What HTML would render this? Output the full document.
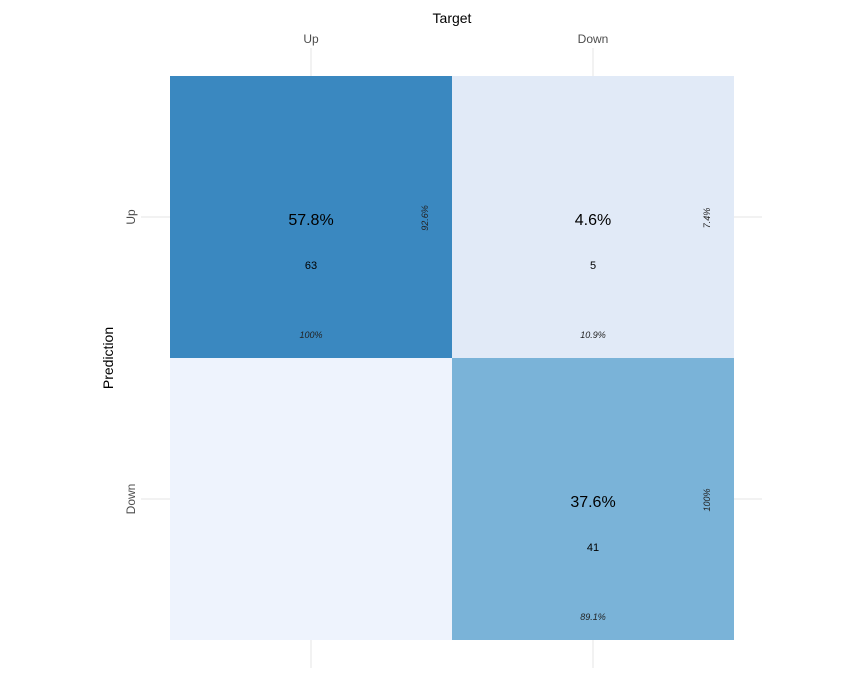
<!DOCTYPE html>
<html><head><meta charset="utf-8"><style>
body{margin:0;background:#fff;}
svg{display:block;font-family:"Liberation Sans",Arial,sans-serif;}
</style></head><body>
<svg id="chart" width="863" height="677" viewBox="0 0 863 677" xmlns="http://www.w3.org/2000/svg">
<text x="452" y="23" font-size="14" text-anchor="middle" fill="#000">Target</text>
<text transform="translate(113,358) rotate(-90)" font-size="14" text-anchor="middle" fill="#000">Prediction</text>
<g id="grid"></g><g id="tiles"></g><g id="labels"></g>
</svg>
<script>
const targets = ["Up","Down"];
const predictions = ["Up","Down"];
const counts = [[63,5],[0,41]];
const totalPct = ["57.8%","4.6%","","37.6%"];
const colPct = ["100%","10.9%","","89.1%"];
const rowPct = ["92.6%","7.4%","","100%"];
const fills = ["#3a88c0","#e1eaf7","#eef3fd","#7ab3d8"];

const NS="http://www.w3.org/2000/svg";
const x0=170,y0=76,cw=282,ch=282;
const xScale=i=>x0+cw*i+cw/2;
const yScale=j=>y0+ch*j+ch/2;
function mk(tag,attrs,parent,text){const e=document.createElementNS(NS,tag);for(const k in attrs)e.setAttribute(k,attrs[k]);if(text!==undefined)e.textContent=text;document.getElementById(parent).appendChild(e);return e;}

targets.forEach((t,i)=>{
  const l=mk('line',{x1:xScale(i),x2:xScale(i),y1:48,y2:668,stroke:'#e6e6e6','stroke-width':1},'grid');
  
  
  const tx=mk('text',{x:xScale(i),y:43,'font-size':12,'text-anchor':'middle',fill:'#4d4d4d'},'labels',t);
  
  
});
predictions.forEach((p,j)=>{
  const l=mk('line',{x1:141,x2:762,y1:yScale(j),y2:yScale(j),stroke:'#e6e6e6','stroke-width':1},'grid');
  
  
  const tx=mk('text',{transform:`translate(135,${yScale(j)}) rotate(-90)`,'font-size':12,'text-anchor':'middle',fill:'#4d4d4d'},'labels',p);
  
  
});
predictions.forEach((p,j)=>{
  targets.forEach((t,i)=>{
    const k=j*2+i;
    const r=mk('rect',{x:x0+cw*i,y:y0+ch*j,width:cw,height:ch,fill:fills[k]},'tiles');
    
    
    if(counts[j][i]===0) return;
    const cx=xScale(i),cy=yScale(j);
    const a=mk('text',{x:cx,y:cy+8,'font-size':16,'text-anchor':'middle',fill:'#000'},'labels',totalPct[k]);
    
    
    const b=mk('text',{x:cx,y:cy+52,'font-size':11,'text-anchor':'middle',fill:'#000'},'labels',String(counts[j][i]));
    
    
    const c=mk('text',{x:cx,y:cy+121,'font-size':9,'font-style':'italic','text-anchor':'middle',fill:'#222'},'labels',colPct[k]);
    
    
    const d=mk('text',{transform:`translate(${cx+117},${cy+1}) rotate(-90)`,'font-size':9,'font-style':'italic','text-anchor':'middle',fill:'#222'},'labels',rowPct[k]);
    
    
  });
});
</script>
</body></html>
